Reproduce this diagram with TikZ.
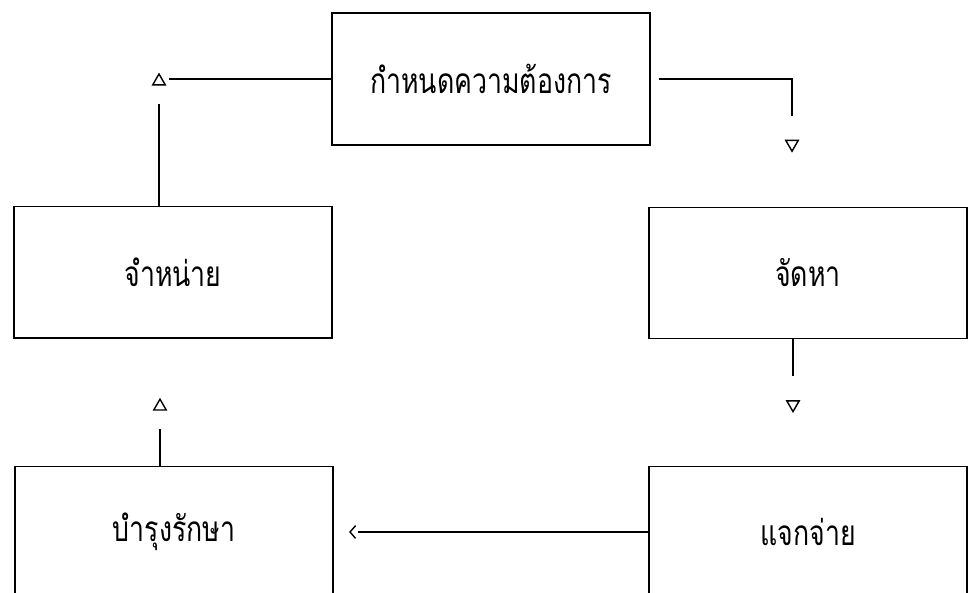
\documentclass[tikz,border=0pt]{standalone}
\usepackage{fontspec}
\newfontfamily\thaifont[Script=Thai]{Loma}
\usetikzlibrary{positioning,shapes.geometric,calc}
\newcommand{\tallthai}[1]{\scalebox{0.95}[1.25]{#1}}
\tikzset{
  procbox/.style={draw, line width=0.9pt, minimum width=7.95cm, minimum height=3.28cm,
    font=\thaifont\fontsize{20}{24}\selectfont},
  tri/.style={draw, regular polygon, regular polygon sides=3, minimum size=0.36cm,
    inner sep=0pt, line width=1pt},
  link/.style={line width=0.9pt}
}
\begin{document}
\begin{tikzpicture}
  \clip (0,0) rectangle (24.2,14.8);
  \fill[white] (0,0) rectangle (24.2,14.8);

  % Boxes
  \node[procbox, minimum height=3.3cm] (need) at (12.275,12.825) {\tallthai{กำหนดความต้องการ}};
  \node[procbox] (dispose) at (4.325,7.99) {\tallthai{จำหน่าย}};
  \node[procbox] (procure) at (20.2,7.98) {\tallthai{จัดหา}};
  \node[procbox] (maintain) at (4.35,1.5) {\tallthai{บำรุงรักษา}};
  \node[procbox] (distribute) at (20.2,1.5) {\tallthai{แจกจ่าย}};

  % Arrow heads (loose, typewriter style)
  \node[tri] (upA) at (3.975,12.77) {};
  \node[tri, shape border rotate=180] (downA) at (19.8,11.2) {};
  \node[tri, shape border rotate=180] (downB) at (19.825,4.69) {};
  \node[tri] (upB) at (4.0,4.64) {};
  \coordinate (leftA) at (8.75,1.5);
  \draw[link, line width=1pt] ($(leftA)+(0.14,0.16)$) -- (leftA) -- ($(leftA)+(0.14,-0.16)$);

  % Connectors
  \draw[link, shorten >=0.12cm] (need.west) -- (need.west -| upA.east);
  \draw[link, shorten >=0.45cm] (upA |- dispose.north) -- (upA.south);
  \draw[link, shorten <=0.2cm, shorten >=0.6cm] (need.east) -| (downA.north);
  \draw[link, shorten >=0.6cm] (downB |- procure.south) -- (downB.north);
  \draw[link, shorten >=0.45cm] (upB |- maintain.north) -- (upB.south);
  \draw[link, shorten >=0.2cm] (distribute.west) -- (leftA);
\end{tikzpicture}
\end{document}
